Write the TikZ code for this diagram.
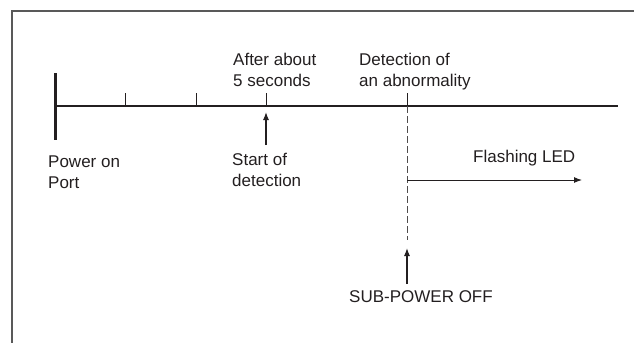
\documentclass[tikz,border=0pt]{standalone}
\usepackage{fontspec}
\setmainfont{Liberation Sans}
\usetikzlibrary{arrows.meta,calc}
\definecolor{ink}{RGB}{35,31,32}
\tikzset{>={Latex[length=8pt,width=6pt]}}
\tikzset{lbl/.style={anchor=north west,inner sep=0pt,align=left,text=ink,font=\fontsize{17}{20.5}\selectfont}}

\begin{document}
\begin{tikzpicture}[x=1pt,y=-1pt]
  \useasboundingbox (0,0) rectangle (634,343);

  % Frame
  \draw[line width=1.6pt,black!65] (634,11) -- (12,11) -- (12,343);

  % Time axis
  \coordinate (t0) at (55,106);
  \coordinate (t1) at (125,106);
  \coordinate (t2) at (196,106);
  \coordinate (t3) at (266,106);
  \coordinate (t4) at (407,106);
  \coordinate (tend) at (618,106);
  \draw[line width=2.8pt,ink] (t0) -- (tend);
  \draw[line width=3pt,ink] (55,73) -- (55,140);
  \foreach \x in {1,2,3,4} \draw[line width=1pt,ink] (t\x) -- ++(0,-13);

  % Abnormality
  \coordinate (d1) at (407,240);
  \coordinate (f1) at (407,180);
  \coordinate (f2) at (582,180);
  \draw[line width=1pt,ink!80,dash pattern=on 6.5pt off 3.5pt] (t4) -- (d1);
  \draw[->,line width=1pt,ink] (f1) -- (f2);

  % Labels
  \node[lbl] (after) at (233,53) {After about\\5 seconds};
  \node[lbl] (detect) at (359,53) {Detection of\\an abnormality};
  \node[lbl] (power) at (48,156) {Power on\\Port};
  \node[lbl] (start) at (232,153) {Start of\\detection};
  \node[lbl] (flash) at (473,150) {Flashing LED};
  \node[lbl] (sub) at (349,290) {SUB-POWER OFF};

  % Pointers
  \draw[->,line width=1.2pt,ink,shorten <=8pt,shorten >=6pt] (t3 |- start.north) -- (t3);
  \draw[->,line width=1.2pt,ink,shorten <=6pt,shorten >=8pt] (d1 |- sub.north) -- (d1);

\end{tikzpicture}
\end{document}
